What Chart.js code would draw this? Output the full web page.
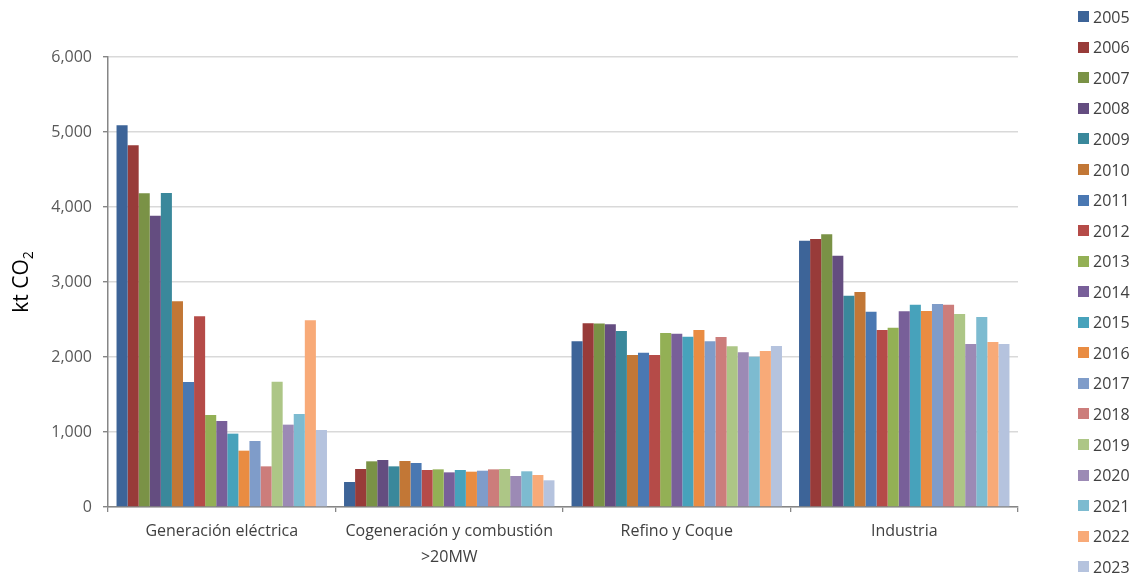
<!DOCTYPE html>
<html>
<head>
<meta charset="utf-8">
<script src="https://cdn.jsdelivr.net/npm/chart.js@4/dist/chart.umd.min.js"></script>
<style>
  html, body { margin: 0; padding: 0; background: #ffffff; }
  #wrap { position: relative; width: 1136px; height: 577px; overflow: hidden; }
  #legend { position: absolute; left: 0; top: 0; width: 1136px; height: 577px; pointer-events: none; }
  .li { position: absolute; left: 1078px; height: 20px; display: flex; align-items: center;
        font-family: "Open Sans", sans-serif; font-size: 16px; color: #404040; white-space: nowrap; }
  .sw { width: 11px; height: 11px; margin-right: 4px; flex: 0 0 auto; }
</style>
</head>
<body>
<div id="wrap">
  <canvas id="c" width="1136" height="577"></canvas>
  <div id="legend"></div>
</div>
<script>
// ---- data ----
const categories = ["Generación eléctrica", ["Cogeneración y combustión", ">20MW"], "Refino y Coque", "Industria"];
const years = ["2005","2006","2007","2008","2009","2010","2011","2012","2013","2014","2015","2016","2017","2018","2019","2020","2021","2022","2023"];
const generacion   = [5089, 4822, 4182, 3884, 4187, 2742, 1667, 2542, 1227, 1147, 978, 751, 880, 542, 1671, 1098, 1240, 2489, 1027];
const cogeneracion = [333, 507, 609, 627, 542, 613, 587, 493, 502, 462, 493, 471, 484, 502, 507, 413, 476, 427, 356];
const refino       = [2209, 2449, 2446, 2436, 2347, 2027, 2058, 2027, 2320, 2311, 2271, 2360, 2209, 2267, 2142, 2062, 2004, 2080, 2147];
const industria    = [3551, 3573, 3636, 3351, 2818, 2867, 2604, 2360, 2391, 2609, 2698, 2613, 2707, 2698, 2573, 2173, 2533, 2200, 2173];
const yTicks = [0, 1000, 2000, 3000, 4000, 5000, 6000];
const yTitle = "kt CO";
const yTitleSub = "2";

// ---- styles ----
const colors = ["#3D6498","#983B39","#7A9246","#644D80","#3A889B","#C27736","#4A78B2","#B54B48","#93B055","#785F99","#47A2BB","#E98C42","#7F9CC9","#CC7D7B","#ADC686","#9C8AB5","#7DBBD0","#F8AA78","#B5C3DE"];
const FONT = "'Open Sans', sans-serif";

const datasets = years.map((y, i) => ({
  label: y,
  data: [generacion[i], cogeneracion[i], refino[i], industria[i]],
  backgroundColor: colors[i],
  borderWidth: 0,
  categoryPercentage: 0.925,
  barPercentage: 1.0
}));

const yTitlePlugin = {
  id: 'yTitle',
  afterDraw(chart) {
    const ctx = chart.ctx;
    const area = chart.chartArea;
    const cy = (area.top + area.bottom) / 2;
    ctx.save();
    ctx.fillStyle = '#000000';
    ctx.translate(28, cy);
    ctx.rotate(-Math.PI / 2);
    ctx.font = "21px " + FONT;
    const w1 = ctx.measureText(yTitle).width;
    ctx.font = "14px " + FONT;
    const w2 = ctx.measureText(yTitleSub).width;
    const start = -(w1 + w2) / 2;
    ctx.textBaseline = 'alphabetic';
    ctx.textAlign = 'left';
    ctx.font = "21px " + FONT;
    ctx.fillText(yTitle, start, 0);
    ctx.font = "14px " + FONT;
    ctx.fillText(yTitleSub, start + w1, 5);
    ctx.restore();
  }
};

const chart = new Chart(document.getElementById('c'), {
  type: 'bar',
  data: { labels: categories, datasets },
  options: {
    responsive: false,
    animation: false,
    devicePixelRatio: 1,
    locale: 'en-US',
    layout: { padding: { left: 0, right: 118, top: 57, bottom: 0 } },
    plugins: {
      legend: { display: false },
      tooltip: { enabled: false },
      title: { display: false }
    },
    scales: {
      x: {
        offset: true,
        grid: { offset: true, drawOnChartArea: false, drawTicks: true, tickLength: 5, tickColor: '#868686', lineWidth: 1.3 },
        border: { color: '#868686', width: 1.5 },
        ticks: { color: '#404040', font: { family: FONT, size: 16, lineHeight: 1.6 }, padding: 7, maxRotation: 0, autoSkip: false },
        afterFit(s) { s.height = 70; }
      },
      y: {
        min: 0, max: 6000,
        afterBuildTicks(s) { s.ticks = yTicks.map(v => ({ value: v })); },
        grid: { color: '#d9d9d9', lineWidth: 1.4, drawTicks: true, tickLength: 5, tickColor: '#868686' },
        border: { color: '#868686', width: 1.5 },
        ticks: { color: '#595959', font: { family: FONT, size: 16 }, padding: 11,
                 callback: v => v.toLocaleString('en-US') },
        afterFit(s) { s.width = 108; }
      }
    }
  },
  plugins: [yTitlePlugin]
});

// ---- HTML legend built from the chart's datasets ----
const legend = document.getElementById('legend');
chart.data.datasets.forEach((ds, i) => {
  const item = document.createElement('div');
  item.className = 'li';
  item.style.top = (16.7 + i * 30.56 - 10) + 'px';
  const sw = document.createElement('span');
  sw.className = 'sw';
  sw.style.background = ds.backgroundColor;
  const tx = document.createElement('span');
  tx.textContent = ds.label;
  item.appendChild(sw);
  item.appendChild(tx);
  legend.appendChild(item);
});
</script>
</body>
</html>
